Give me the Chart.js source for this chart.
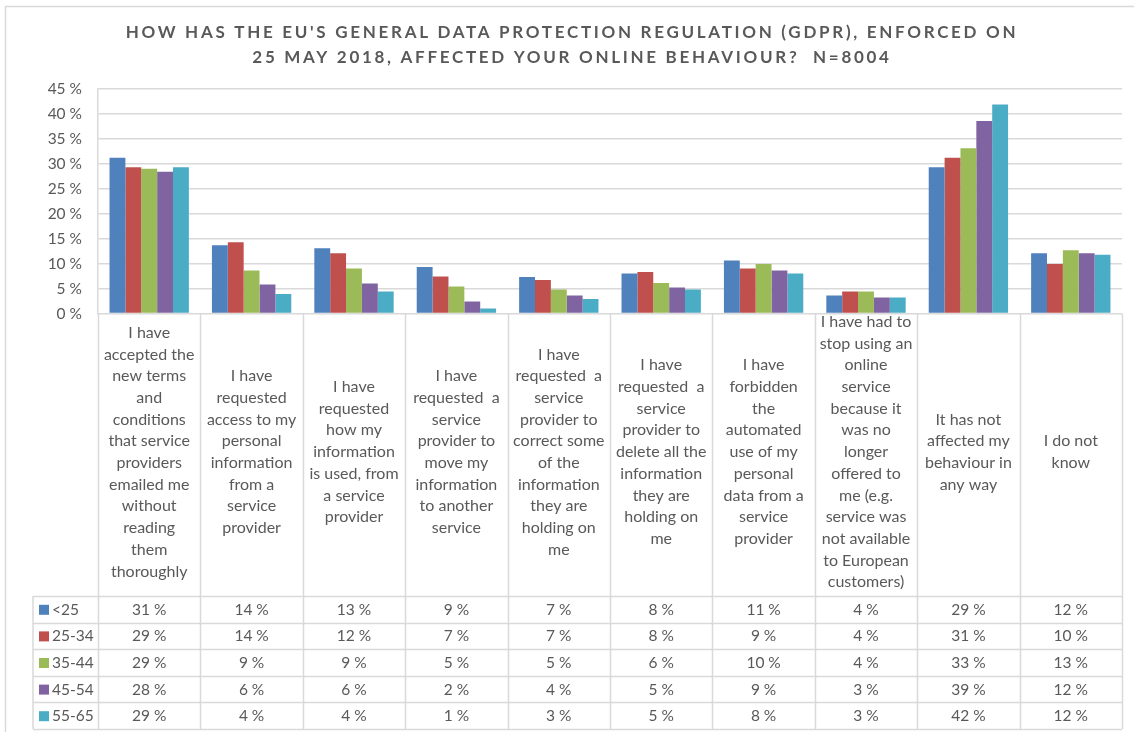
<!DOCTYPE html>
<html>
<head>
<meta charset="utf-8">
<title>GDPR and online behaviour</title>
<script src="https://cdn.jsdelivr.net/npm/chart.js@4.4.1/dist/chart.umd.min.js"></script>
<style>
  html, body { margin: 0; padding: 0; background: #ffffff; }
  #wrap { width: 1134px; height: 732px; position: relative; }
</style>
</head>
<body>
<div id="wrap"><canvas id="chart" width="1134" height="732"></canvas></div>
<script>
// Survey answers, one entry per category (each entry holds its wrapped text lines)
const categories = [
  ["I have", "accepted the", "new terms", "and", "conditions", "that service", "providers", "emailed me", "without", "reading", "them", "thoroughly"],
  ["I have", "requested", "access to my", "personal", "information", "from a", "service", "provider"],
  ["I have", "requested", "how my", "information", "is used, from", "a service", "provider"],
  ["I have", "requested  a", "service", "provider to", "move my", "information", "to another", "service"],
  ["I have", "requested  a", "service", "provider to", "correct some", "of the", "information", "they are", "holding on", "me"],
  ["I have", "requested  a", "service", "provider to", "delete all the", "information", "they are", "holding on", "me"],
  ["I have", "forbidden", "the", "automated", "use of my", "personal", "data from a", "service", "provider"],
  ["I have had to", "stop using an", "online", "service", "because it", "was no", "longer", "offered to", "me (e.g.", "service was", "not available", "to European", "customers)"],
  ["It has not", "affected my", "behaviour in", "any way"],
  ["I do not", "know"]
];

const ageGroups = ["<25", "25-34", "35-44", "45-54", "55-65"];

// Share of respondents (%) per age group
const under25  = [31.2, 13.7, 13.1, 9.3, 7.3, 8.0, 10.6, 3.6, 29.3, 12.1];
const age25_34 = [29.3, 14.3, 12.1, 7.4, 6.7, 8.3, 9.0, 4.4, 31.2, 9.9];
const age35_44 = [29.0, 8.6, 9.0, 5.4, 4.8, 6.1, 9.9, 4.4, 33.1, 12.7];
const age45_54 = [28.4, 5.8, 6.0, 2.4, 3.6, 5.2, 8.6, 3.2, 38.6, 12.1];
const age55_65 = [29.3, 3.9, 4.4, 1.0, 2.9, 4.8, 8.0, 3.2, 41.9, 11.8];

const yTicks = [0, 5, 10, 15, 20, 25, 30, 35, 40, 45];

const titleLines = [
  "HOW HAS THE EU'S GENERAL DATA PROTECTION REGULATION (GDPR), ENFORCED ON",
  "25 MAY 2018, AFFECTED YOUR ONLINE BEHAVIOUR?  N=8004"
];

const seriesValues = [under25, age25_34, age35_44, age45_54, age55_65];
const seriesColors = ["#4F81BD", "#C0504D", "#9BBB59", "#8064A2", "#4BACC6"];

const TEXT = "#595959";
const LINE = "#d9d9d9";
const FONT = "Lato, 'Open Sans', sans-serif";

// Title, outer frame and the data table below the plot
const tablePlugin = {
  id: "dataTable",
  afterDraw(chart) {
    const ctx = chart.ctx;
    const ca = chart.chartArea;
    const xs = chart.scales.x;
    const n = categories.length;
    const step = xs.getPixelForValue(1) - xs.getPixelForValue(0);
    const headerTop = ca.bottom;
    const headerBottom = 596;
    const rowH = 26.6;
    const legendLeft = 33;
    const tableBottom = headerBottom + rowH * ageGroups.length;

    ctx.save();

    // outer frame
    ctx.strokeStyle = LINE;
    ctx.lineWidth = 1.5;
    ctx.strokeRect(5.5, 6.5, 1140, 740);

    // title
    ctx.fillStyle = TEXT;
    ctx.font = "bold 17px " + FONT;
    ctx.letterSpacing = "2.7px";
    ctx.textAlign = "center";
    ctx.textBaseline = "alphabetic";
    ctx.fillText(titleLines[0], 572, 38);
    ctx.fillText(titleLines[1], 572, 63);
    ctx.letterSpacing = "0px";

    // grid of the table
    ctx.strokeStyle = LINE;
    ctx.lineWidth = 1.5;
    ctx.beginPath();
    for (let i = 0; i <= n; i++) {
      const x = Math.round(xs.getPixelForValue(i) - step / 2) + 0.5;
      ctx.moveTo(x, headerTop);
      ctx.lineTo(x, tableBottom);
    }
    ctx.moveTo(legendLeft, headerBottom);
    ctx.lineTo(legendLeft, tableBottom);
    for (let r = 0; r <= ageGroups.length; r++) {
      const y = Math.round(headerBottom + r * rowH) + 0.5;
      ctx.moveTo(legendLeft, y);
      ctx.lineTo(ca.right, y);
    }
    ctx.stroke();

    // category header cells
    ctx.fillStyle = TEXT;
    ctx.font = "16px " + FONT;
    ctx.textAlign = "center";
    ctx.textBaseline = "middle";
    const lh = 21.7;
    const midY = 452;
    categories.forEach((lines, i) => {
      const cx = xs.getPixelForValue(i);
      const y0 = midY - (lines.length - 1) * lh / 2;
      lines.forEach((t, k) => ctx.fillText(t, cx, y0 + k * lh));
    });

    // rows: legend key + values
    ctx.font = "15.5px " + FONT;
    ageGroups.forEach((g, r) => {
      const cy = headerBottom + r * rowH + rowH / 2 + 0.5;
      ctx.fillStyle = seriesColors[r];
      ctx.fillRect(39, cy - 5, 10, 10);
      ctx.fillStyle = TEXT;
      ctx.textAlign = "left";
      ctx.fillText(g, 52, cy);
      ctx.textAlign = "center";
      seriesValues[r].forEach((v, i) => {
        ctx.fillText(Math.round(v) + " %", xs.getPixelForValue(i), cy);
      });
    });

    ctx.restore();
  }
};

new Chart(document.getElementById("chart"), {
  type: "bar",
  data: {
    labels: categories,
    datasets: ageGroups.map((g, i) => ({
      label: g,
      data: seriesValues[i],
      backgroundColor: seriesColors[i],
      borderWidth: 0,
      categoryPercentage: 0.775,
      barPercentage: 1.0
    }))
  },
  options: {
    responsive: false,
    animation: false,
    devicePixelRatio: 1,
    layout: { padding: { top: 89, right: 12, bottom: 418.5, left: 0 } },
    plugins: {
      legend: { display: false },
      title: { display: false },
      tooltip: { enabled: false }
    },
    scales: {
      x: { display: false },
      y: {
        min: 0,
        max: 45,
        afterFit(scale) { scale.width = 98; },
        afterBuildTicks(scale) { scale.ticks = yTicks.map(v => ({ value: v })); },
        ticks: {
          padding: 16,
          color: TEXT,
          font: { family: FONT, size: 15.5 },
          callback: v => v + " %"
        },
        grid: { color: LINE, lineWidth: 1.5, drawTicks: false },
        border: { display: true, color: LINE, width: 1.5 }
      }
    }
  },
  plugins: [tablePlugin]
});
</script>
</body>
</html>
